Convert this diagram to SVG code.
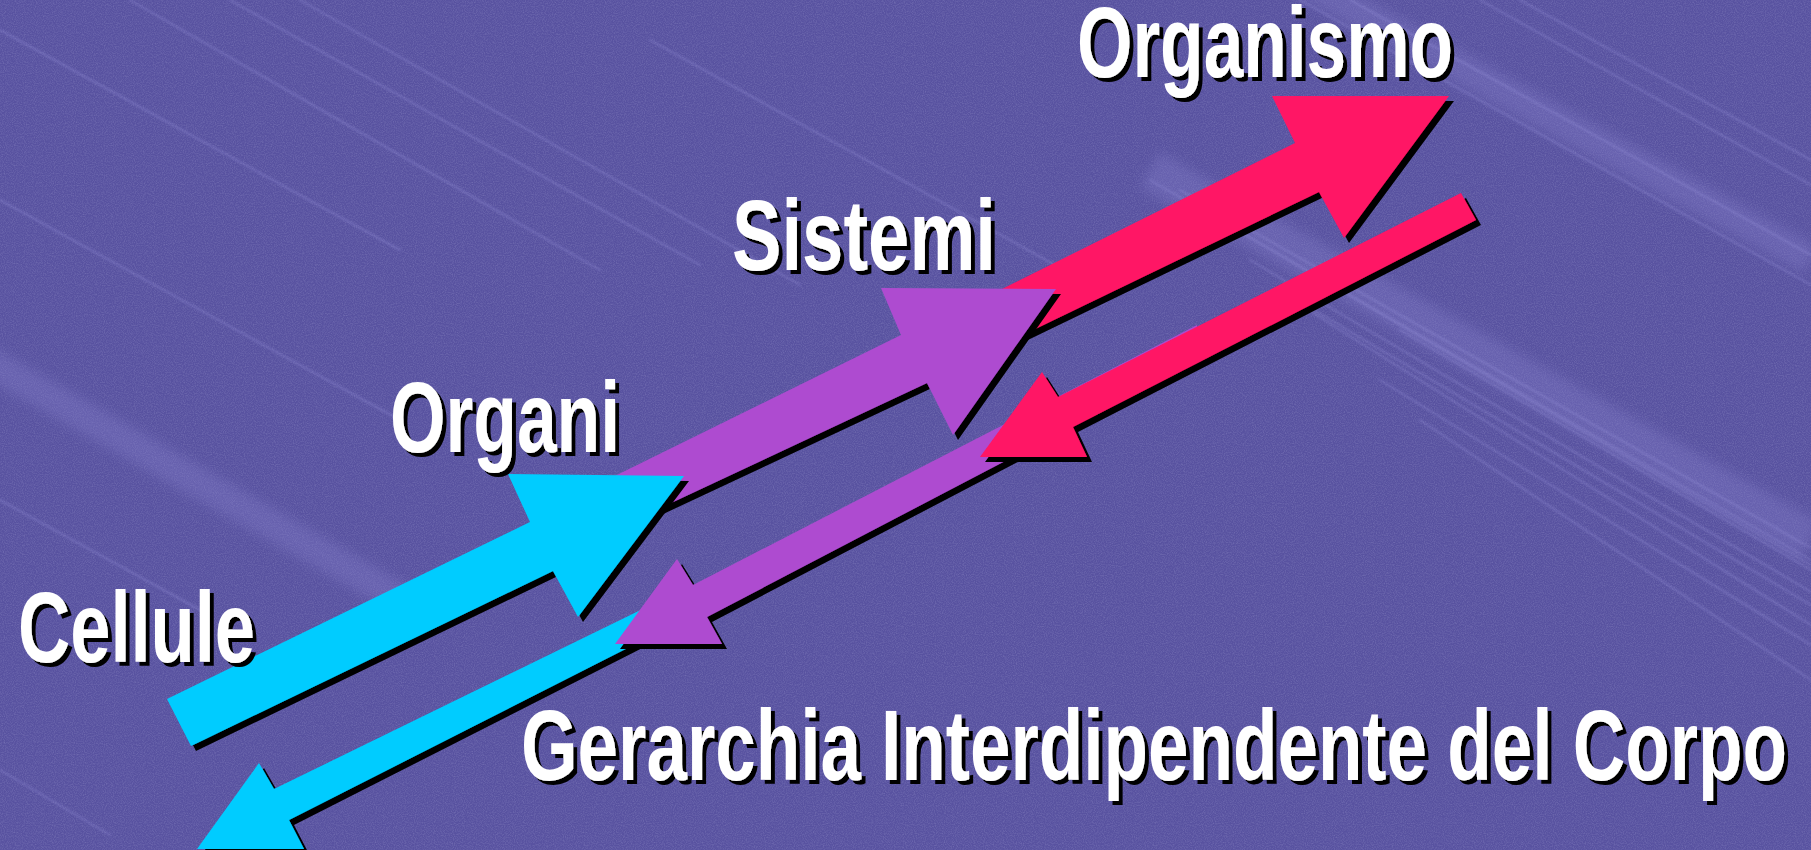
<svg xmlns="http://www.w3.org/2000/svg" xmlns:xlink="http://www.w3.org/1999/xlink" width="1811" height="850" viewBox="0 0 1811 850">
<style>
.lbl{font-family:"Liberation Sans Narrow","Liberation Sans",Arial,sans-serif;font-weight:bold;font-size:101px;fill:#ffffff;filter:url(#tsh)}
.cyan{fill:#00CCFF}
.purple{fill:#AE4CD0}
.pink{fill:#FF1465}
.arrow{filter:url(#ash)}
.streak{stroke:#9a95dd;fill:none;stroke-linecap:round}
</style>
<defs>
<filter id="ash" filterUnits="userSpaceOnUse" x="0" y="0" width="1811" height="850">
<feOffset in="SourceAlpha" dx="5" dy="5" result="o"/>
<feFlood flood-color="#000"/>
<feComposite in2="o" operator="in" result="s"/>
<feMerge><feMergeNode in="s"/><feMergeNode in="SourceGraphic"/></feMerge>
</filter>
<filter id="tsh" filterUnits="userSpaceOnUse" x="0" y="0" width="1811" height="850">
<feOffset in="SourceAlpha" dx="4" dy="4" result="o"/>
<feFlood flood-color="#000"/>
<feComposite in2="o" operator="in" result="s"/>
<feMerge><feMergeNode in="s"/><feMergeNode in="SourceGraphic"/></feMerge>
</filter>
<filter id="noise" x="0" y="0" width="100%" height="100%">
<feTurbulence type="fractalNoise" baseFrequency="0.9" numOctaves="2" seed="3"/>
<feColorMatrix type="matrix" values="0 0 0 0 0.8  0 0 0 0 0.8  0 0 0 0 1  0 0 0 1.2 -0.45"/>
</filter>
<filter id="blur"><feGaussianBlur stdDeviation="6"/></filter>
<filter id="soft"><feGaussianBlur stdDeviation="0.8"/></filter>
</defs>

<g id="background">
<rect x="0" y="0" width="1811" height="850" fill="#5852A0"/>
<rect x="0" y="0" width="1811" height="850" filter="url(#noise)" opacity="0.25"/>
<g filter="url(#blur)" opacity="0.3">
<line x1="-50" y1="340" x2="420" y2="610" stroke="#8c86d2" stroke-width="30"/>
<line x1="1150" y1="170" x2="1811" y2="540" stroke="#8c86d2" stroke-width="40"/>
<line x1="1300" y1="-20" x2="1811" y2="260" stroke="#8c86d2" stroke-width="30"/>
</g>
<g class="streak" opacity="0.35" stroke-width="2" filter="url(#soft)">
<line x1="1480" y1="0" x2="1811" y2="185"/>
<line x1="1520" y1="0" x2="1811" y2="160"/>
<line x1="1300" y1="0" x2="1811" y2="285"/>
<line x1="1350" y1="0" x2="1811" y2="255"/>
<line x1="1150" y1="180" x2="1811" y2="560"/>
<line x1="1180" y1="190" x2="1811" y2="548"/>
<line x1="1220" y1="220" x2="1811" y2="565"/>
<line x1="1250" y1="260" x2="1811" y2="592"/>
<line x1="1280" y1="290" x2="1811" y2="605"/>
<line x1="1300" y1="305" x2="1811" y2="625"/>
<line x1="1400" y1="330" x2="1811" y2="570"/>
<line x1="1380" y1="380" x2="1811" y2="645"/>
<line x1="1420" y1="420" x2="1811" y2="680"/>
<line x1="130" y1="0" x2="600" y2="270"/>
<line x1="230" y1="0" x2="700" y2="265"/>
<line x1="300" y1="0" x2="800" y2="285"/>
<line x1="0" y1="30" x2="400" y2="250"/>
<line x1="0" y1="200" x2="400" y2="420"/>
<line x1="0" y1="500" x2="200" y2="610"/>
<line x1="0" y1="770" x2="110" y2="835"/>
<line x1="650" y1="40" x2="1100" y2="290"/>
</g>
</g>

<g id="connectors">
<g id="arrow-cyan-down" class="arrow"><polygon class="cyan" points="655,603 274,789 259,763 197,849 304,849 289,820 665,629"/></g>
<g id="arrow-purple-down" class="arrow"><polygon class="purple" points="1197,325 693,585 677,559 615,644 722,644 707,617 1200,359"/></g>
<g id="arrow-pink-down" class="arrow"><polygon class="pink" points="1461,193 1058,397 1042,372 980,457 1087,457 1073,427 1476,220"/></g>
<g id="arrow-pink-up" class="arrow"><polygon class="pink" points="990,295 1295,143 1272,96 1449,96 1344,238 1319,192 1000,346"/></g>
<g id="arrow-purple-up" class="arrow"><polygon class="purple" points="560,503 901,335 881,288 1056,289 953,435 927,383 590,541"/></g>
<g id="arrow-cyan-up" class="arrow"><polygon class="cyan" points="167,699 530,522 508,474 684,476 578,617 553,571 191,746"/></g>
</g>

<g id="node-organismo"><text class="lbl" x="1077" y="77" textLength="376" lengthAdjust="spacingAndGlyphs">Organismo</text></g>
<g id="node-sistemi"><text class="lbl" x="732" y="270" textLength="264" lengthAdjust="spacingAndGlyphs">Sistemi</text></g>
<g id="node-organi"><text class="lbl" x="390" y="452" textLength="230" lengthAdjust="spacingAndGlyphs">Organi</text></g>
<g id="node-cellule"><text class="lbl" x="18" y="662" textLength="237" lengthAdjust="spacingAndGlyphs">Cellule</text></g>
<g id="node-title"><text class="lbl" x="521" y="780" textLength="1266" lengthAdjust="spacingAndGlyphs">Gerarchia Interdipendente del Corpo</text></g>
</svg>
